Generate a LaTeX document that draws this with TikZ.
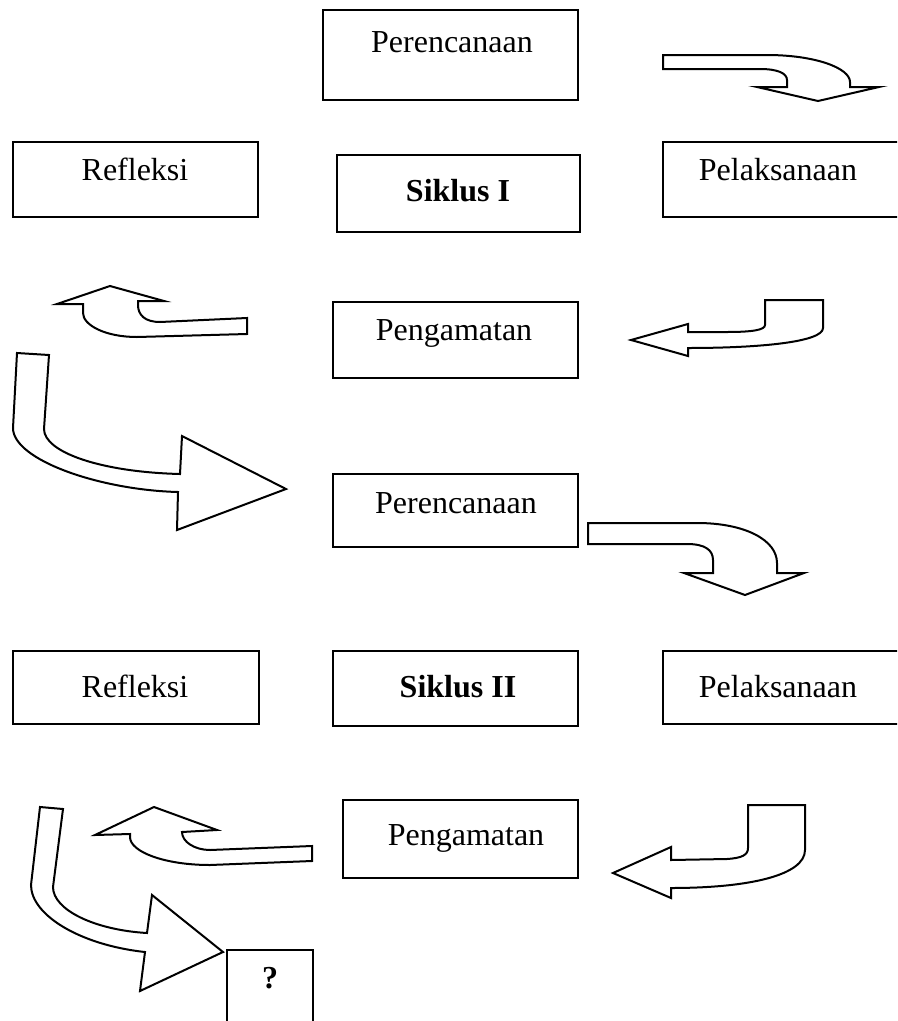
\documentclass[tikz,border=0pt]{standalone}
\usepackage{fontspec}
\setmainfont{Liberation Serif}
\usetikzlibrary{fit}
\begin{document}
\begin{tikzpicture}[x=0.75pt,y=-0.75pt,
  box/.style={draw=black,line width=1.5pt,inner sep=0pt,fill=white},
  lbl/.style={anchor=base,inner sep=0pt,font=\fontsize{24}{28}\selectfont},
  blk/.style={draw=black,line width=1.5pt,fill=white,line join=miter}]
\useasboundingbox (0,0) rectangle (897,1021);
\clip (0,0) rectangle (897,1021);

% ---------------- Siklus I ----------------
\node[box,fit={(323,10) (578,100)}] (ren1) {};
\node[lbl] (ren1t) at (452,52) {Perencanaan};

\node[box,fit={(13,142) (258,217)}] (ref1) {};
\node[lbl] (ref1t) at (135,180) {Refleksi};

\node[box,fit={(337,155) (580,232)}] (sik1) {};
\node[lbl] (sik1t) at (458,201) {\bfseries Siklus I};

\node[box,fit={(663,142) (900,217)}] (pel1) {};
\node[lbl] (pel1t) at (778,180) {Pelaksanaan};

\node[box,fit={(333,302) (578,378)}] (pen1) {};
\node[lbl] (pen1t) at (454,340) {Pengamatan};

% block arrow: perencanaan -> pelaksanaan
\draw[blk] (663,55) -- (767,55) .. controls (815,55) and (850,68) .. (850,82)
  -- (850,87) -- (879,87) -- (818,101) -- (757,87) -- (787,87) -- (787,80)
  .. controls (787,73) and (777,69) .. (760,69) -- (663,69) -- cycle;

% block arrow: pelaksanaan -> pengamatan
\draw[blk] (765,300) -- (823,300) -- (823,328)
  .. controls (823,342) and (760,348) .. (688,348)
  -- (688,356) -- (631,340) -- (688,324) -- (688,332) -- (727,332)
  .. controls (752,332) and (765,330) .. (765,325) -- cycle;

% block arrow: pengamatan -> refleksi
\draw[blk] (247,318) -- (247,334) -- (137,337)
  .. controls (105,337) and (83,325) .. (83,313)
  -- (83,304) -- (57,304) -- (110,286) -- (164,301) -- (138,301) -- (138,305)
  .. controls (138,315) and (145,322) .. (160,322) -- cycle;

% block arrow: refleksi -> siklus II
\draw[blk] (17,353) -- (49,355) -- (44,429)
  .. controls (44,452) and (100,472) .. (180,474)
  -- (182,436) -- (286,489) -- (177,530) -- (178,492)
  .. controls (100,490) and (13,460) .. (13,428) -- cycle;

% ---------------- Siklus II ----------------
\node[box,fit={(333,474) (578,547)}] (ren2) {};
\node[lbl] (ren2t) at (456,513) {Perencanaan};

\node[box,fit={(13,651) (259,724)}] (ref2) {};
\node[lbl] (ref2t) at (135,697) {Refleksi};

\node[box,fit={(333,651) (578,726)}] (sik2) {};
\node[lbl] (sik2t) at (458,697) {\bfseries Siklus II};

\node[box,fit={(663,651) (900,724)}] (pel2) {};
\node[lbl] (pel2t) at (778,697) {Pelaksanaan};

\node[box,fit={(343,800) (578,878)}] (pen2) {};
\node[lbl] (pen2t) at (466,845) {Pengamatan};

\node[box,fit={(227,950) (313,1030)}] (next) {};
\node[lbl] (nextt) at (270,988) {\bfseries ?};

% block arrow: perencanaan -> pelaksanaan
\draw[blk] (588,523) -- (697,523) .. controls (745,523) and (777,540) .. (777,563)
  -- (777,573) -- (804,573) -- (745,595) -- (684,573) -- (713,573) -- (713,560)
  .. controls (713,550) and (705,544) .. (687,544) -- (588,544) -- cycle;

% block arrow: pelaksanaan -> pengamatan
\draw[blk] (748,805) -- (805,805) -- (805,850)
  .. controls (805,875) and (750,888) .. (671,888)
  -- (671,898) -- (613,873) -- (671,847) -- (671,860) -- (727,859)
  .. controls (742,858) and (748,855) .. (748,848) -- cycle;

% block arrow: pengamatan -> refleksi
\draw[blk] (312,846) -- (312,861) -- (210,865)
  .. controls (165,865) and (130,852) .. (130,837)
  -- (130,834) -- (95,835) -- (154,807) -- (217,830) -- (182,832)
  .. controls (182,842) and (195,850) .. (210,850) -- cycle;

% block arrow: refleksi -> next cycle
\draw[blk] (40,807) -- (63,809) -- (53,887)
  .. controls (53,910) and (95,930) .. (147,933)
  -- (152,895) -- (223,952) -- (140,991) -- (145,952)
  .. controls (80,945) and (31,915) .. (31,885) -- cycle;
\end{tikzpicture}
\end{document}
